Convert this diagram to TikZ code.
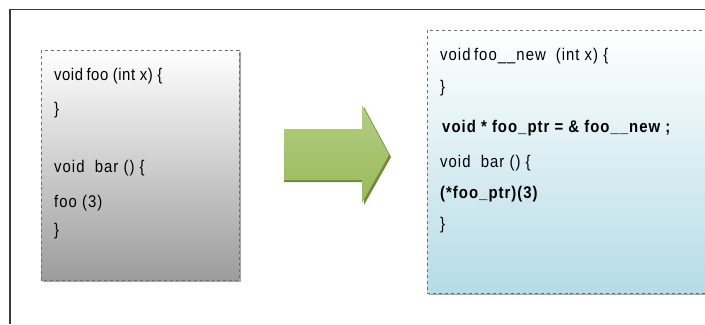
\documentclass[tikz,border=0pt]{standalone}
\usepackage{fontspec}
\setmainfont{Liberation Sans}[FakeStretch=0.88,LetterSpace=6]
\usetikzlibrary{shadows}
\definecolor{framecol}{HTML}{3A3A3A}
\definecolor{grayend}{HTML}{9C9C9C}
\definecolor{blueend}{HTML}{B5DCE6}
\definecolor{greentop}{HTML}{B3CF85}
\definecolor{greenbot}{HTML}{98B957}
\definecolor{greenshadow}{HTML}{6E8A3A}
\definecolor{dashcol}{HTML}{6F6F6F}
\begin{document}
\begin{tikzpicture}[x=1bp,y=-1bp,
  codebox/.style={draw=dashcol,dashed,line width=0.8bp},
  code/.style={anchor=base west,inner sep=0pt,font=\fontsize{17}{19}\selectfont,text=black},
  boldcode/.style={code,font=\fontsize{17}{19}\selectfont\bfseries}]
\useasboundingbox (0,0) rectangle (705,324);
% frame
\draw[framecol,line width=1.3bp] (10,324) -- (10,9.5) -- (705,9.5);
% left box
\fill[black!35] (43,52) rectangle (241,282);
\shade[top color=white,bottom color=grayend] (41,50) rectangle (239,280);
\draw[codebox] (41,50) rectangle (239,280);
\node[code] (l1) at (54,80) {{\addfontfeature{LetterSpace=3}void\hspace{3.5bp}foo (int x) \{}};
\node[code] (l2) at (54,114) {\}};
\node[code] (l3) at (54,172) {void\ \ bar () \{};
\node[code] (l4) at (54,207) {foo (3)};
\node[code] (l5) at (54,235) {\}};
% arrow
\fill[greenshadow] (284,131) -- (364,131) -- (364,107) -- (391,157) -- (364,205) -- (364,182) -- (284,182) -- cycle;
\shade[top color=greentop,bottom color=greenbot] (284,129) -- (362,129) -- (362,105) -- (389,155) -- (362,203) -- (362,180) -- (284,180) -- cycle;
% right box
\fill[black!35] (429,32) rectangle (710,295);
\shade[top color=white,bottom color=blueend] (427,30) rectangle (708,293);
\draw[codebox] (427,30) rectangle (708,293);
\node[code] (r1) at (440,60) {void\hspace{3.5bp}foo\_\_new\hspace{10bp}(int x) \{};
\node[code] (r2) at (440,92) {\}};
\node[boldcode] (r3) at (442,132) {void * foo\_ptr = \& foo\_\_new ;};
\node[code] (r4) at (440,167) {void\ \ bar () \{};
\node[boldcode] (r5) at (440,198) {(*foo\_ptr)(3)};
\node[code] (r6) at (440,229) {\}};
\end{tikzpicture}
\end{document}
